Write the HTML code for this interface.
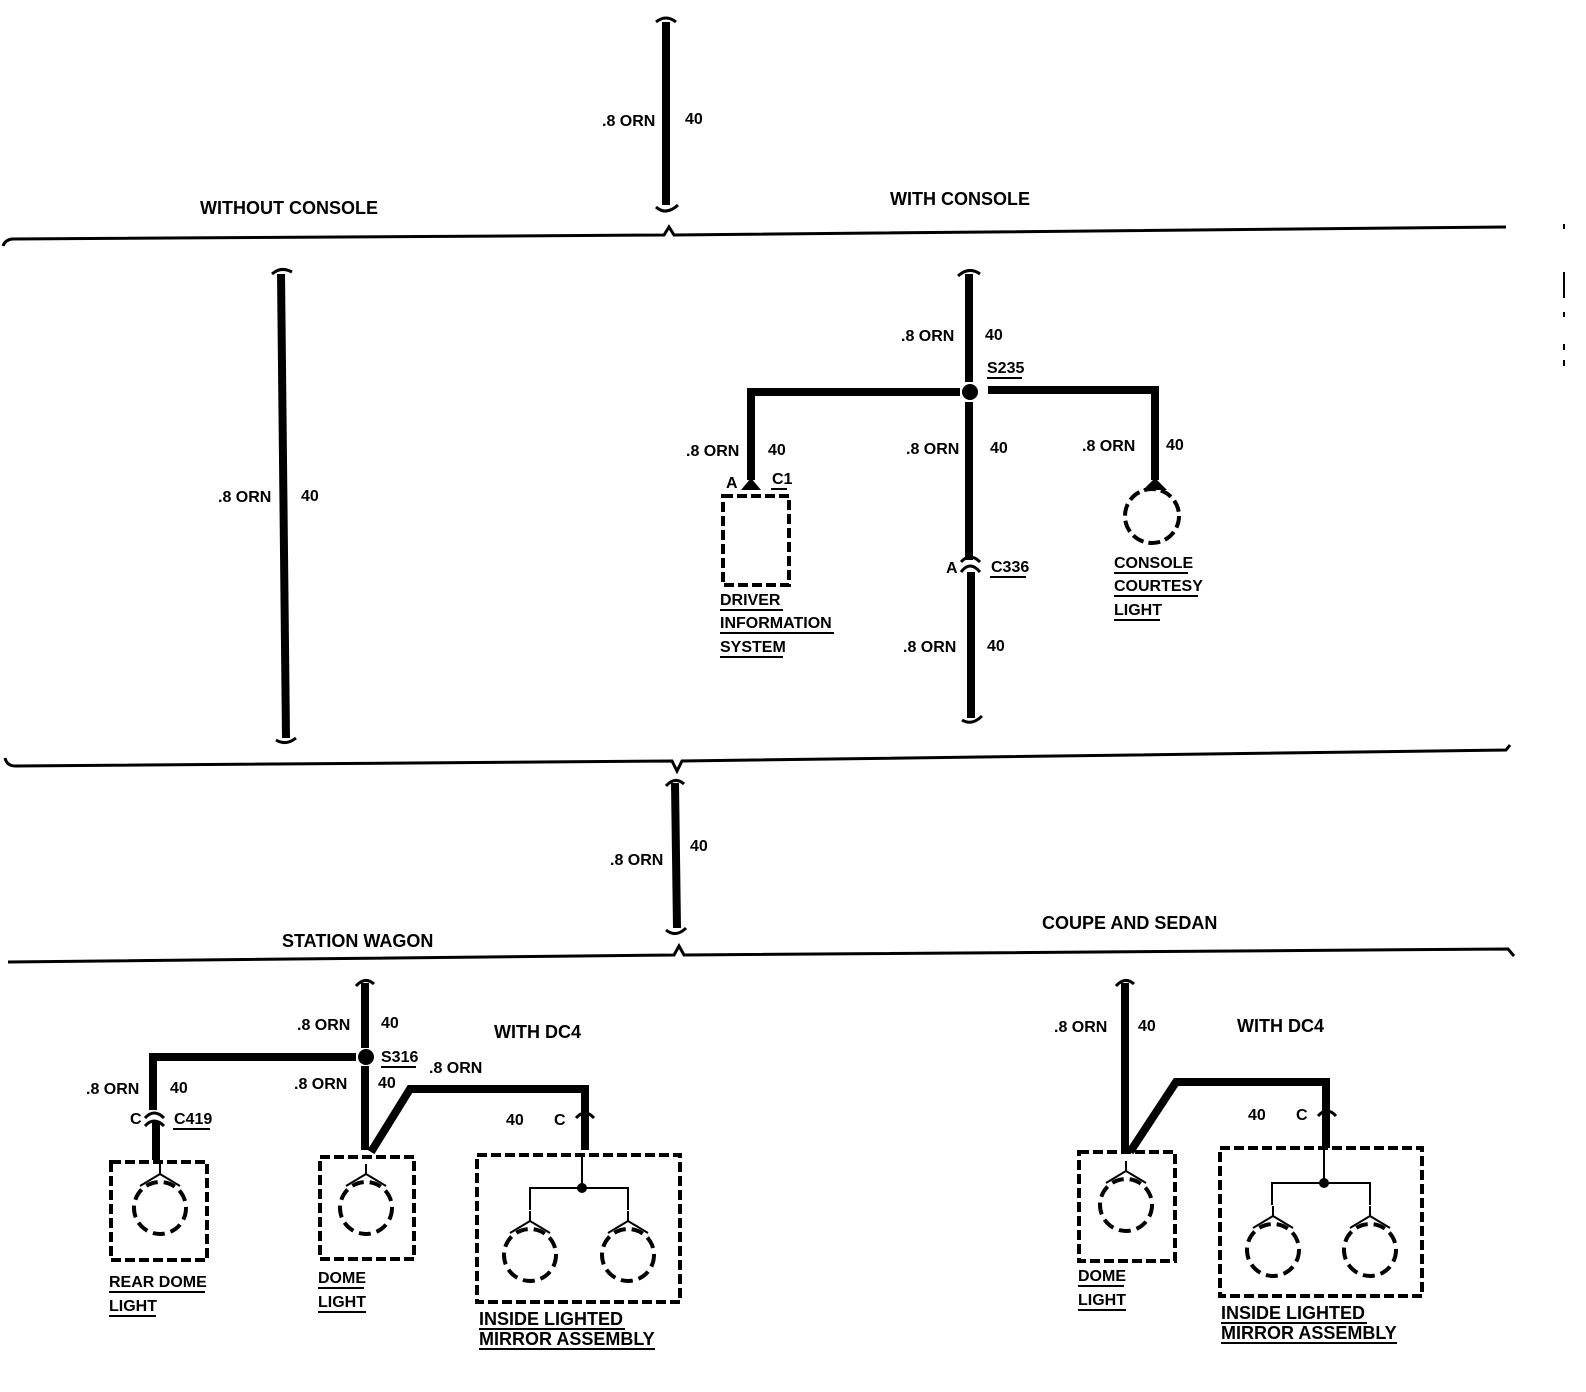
<!DOCTYPE html>
<html><head><meta charset="utf-8"><style>
html,body{margin:0;padding:0;background:#fff;}
svg{display:block;}
text{font-family:"Liberation Sans",sans-serif;font-weight:bold;font-size:16px;fill:#000;}
text.h{font-size:18px;}
.w{stroke:#000;stroke-width:8;fill:none;stroke-linejoin:miter;}
.d{stroke:#000;stroke-width:3;fill:none;}
.box{stroke:#000;stroke-width:4;fill:none;stroke-dasharray:10 4;}
.thin{stroke:#000;stroke-width:2;fill:none;}
.u{stroke:#000;stroke-width:2;}
</style></head><body>
<svg width="1586" height="1392" viewBox="0 0 1586 1392" xmlns="http://www.w3.org/2000/svg">
<defs>
<g id="bulb">
<circle cx="0" cy="0" r="26" stroke="#000" stroke-width="4" fill="none" stroke-dasharray="12 6"/>
<path d="M0,-44 V-34 M0,-34 L-20,-22 M0,-34 L20,-22" class="thin" stroke-width="3"/>
</g>
</defs>

<path class="w" d="M666,22 V205"/>
<path class="d" d="M656,22 Q666,14 676,22 M656,207 Q666,216 678,205"/>
<text x="602" y="126">.8 ORN</text>
<text x="685" y="124">40</text>
<text class="h" x="200" y="214">WITHOUT CONSOLE</text>
<text class="h" x="890" y="205">WITH CONSOLE</text>
<path class="d" d="M3,246 Q5,240 12,239 L664,235 L669,227 L674,235 L1506,227"/>

<path class="w" d="M281,274 L286,738"/>
<path class="d" d="M272,274 Q281,266 292,272 M276,740 Q286,746 296,738"/>
<text x="218" y="502">.8 ORN</text>
<text x="301" y="501">40</text>

<path class="w" d="M969,274 V382 M969,402 V560 M971,572 V718"/>
<path class="d" d="M958,276 Q969,266 980,274 M962,720 Q972,726 982,716"/>
<circle cx="970" cy="392" r="8"/>
<path class="w" d="M960,392 H751 V480"/>
<path class="w" d="M988,390 H1155 V480"/>
<text x="901" y="341">.8 ORN</text>
<text x="985" y="340">40</text>
<text x="987" y="373">S235</text><line class="u" x1="987" y1="378" x2="1022" y2="378"/>
<text x="686" y="456">.8 ORN</text>
<text x="768" y="455">40</text>
<text x="906" y="454">.8 ORN</text>
<text x="990" y="453">40</text>
<text x="1082" y="451">.8 ORN</text>
<text x="1166" y="450">40</text>
<path d="M741,490 L751,478 L761,490 Z"/>
<text x="726" y="488">A</text>
<text x="772" y="484">C1</text><line class="u" x1="771" y1="489" x2="787" y2="489"/>
<rect class="box" x="723" y="496" width="66" height="89"/>
<text x="720" y="605">DRIVER</text><line class="u" x1="720" y1="610" x2="783" y2="610"/>
<text x="720" y="628">INFORMATION</text><line class="u" x1="720" y1="633" x2="834" y2="633"/>
<text x="720" y="652">SYSTEM</text><line class="u" x1="720" y1="657" x2="783" y2="657"/>
<path d="M961,572 Q970,560 980,572 M961,562 Q970,552 980,562" class="d" stroke-width="4"/>
<text x="946" y="573">A</text>
<text x="991" y="572">C336</text><line class="u" x1="990" y1="577" x2="1026" y2="577"/>
<text x="903" y="652">.8 ORN</text>
<text x="987" y="651">40</text>
<path d="M1143,490 L1155,478 L1167,490 Z"/>
<circle cx="1152" cy="516" r="27" stroke="#000" stroke-width="4" fill="none" stroke-dasharray="12 5"/>
<text x="1114" y="568">CONSOLE</text><line class="u" x1="1114" y1="573" x2="1188" y2="573"/>
<text x="1114" y="591">COURTESY</text><line class="u" x1="1114" y1="596" x2="1198" y2="596"/>
<text x="1114" y="615">LIGHT</text><line class="u" x1="1114" y1="620" x2="1160" y2="620"/>

<path class="d" d="M5,758 Q7,766 15,766 L672,761 L677,771 L682,761 L1506,750 L1510,745"/>

<path class="w" d="M675,783 L677,928"/>
<path class="d" d="M666,786 Q675,776 684,784 M666,930 Q676,938 686,928"/>
<text x="610" y="865">.8 ORN</text>
<text x="690" y="851">40</text>
<text class="h" x="282" y="947">STATION WAGON</text>
<text class="h" x="1042" y="929">COUPE AND SEDAN</text>
<path class="d" d="M8,962 L674,955 L679,946 L684,955 L1508,949 L1514,956"/>

<path class="w" d="M365,983 V1048 M365,1066 V1150"/>
<path class="d" d="M356,986 Q365,976 374,984"/>
<circle cx="366" cy="1057" r="8"/>
<path class="w" d="M356,1057 H153 V1110 M156,1122 V1160"/>
<path d="M145,1118 Q154,1108 164,1118 M145,1126 Q154,1116 164,1126" class="d" stroke-width="4"/>
<text x="297" y="1030">.8 ORN</text><text x="381" y="1028">40</text>
<text x="381" y="1062">S316</text><line class="u" x1="381" y1="1067" x2="416" y2="1067"/>
<text x="86" y="1094">.8 ORN</text><text x="170" y="1093">40</text>
<text x="130" y="1124">C</text>
<text x="174" y="1124">C419</text><line class="u" x1="173" y1="1129" x2="210" y2="1129"/>
<text x="294" y="1089">.8 ORN</text><text x="378" y="1088">40</text>
<text x="429" y="1073">.8 ORN</text>
<text class="h" x="494" y="1038">WITH DC4</text>
<path class="w" d="M371,1152 L410,1089 H585 V1150"/>
<path d="M576,1118 Q585,1108 594,1118" class="d" stroke-width="4"/>
<text x="506" y="1125">40</text><text x="554" y="1125">C</text>
<rect class="box" x="111" y="1162" width="96" height="98"/>
<use href="#bulb" x="160" y="1208"/>
<rect class="box" x="320" y="1157" width="94" height="102"/>
<use href="#bulb" x="366" y="1208"/>
<rect class="box" x="477" y="1155" width="203" height="147"/>
<path class="thin" d="M582,1155 V1188 M530,1210 V1188 H628 V1210"/>
<circle cx="582" cy="1188" r="5"/>
<use href="#bulb" x="530" y="1255"/>
<use href="#bulb" x="628" y="1255"/>
<text x="109" y="1287">REAR DOME</text><line class="u" x1="109" y1="1292" x2="205" y2="1292"/>
<text x="109" y="1311">LIGHT</text><line class="u" x1="109" y1="1316" x2="156" y2="1316"/>
<text x="318" y="1283">DOME</text><line class="u" x1="318" y1="1288" x2="364" y2="1288"/>
<text x="318" y="1307">LIGHT</text><line class="u" x1="318" y1="1312" x2="366" y2="1312"/>
<text class="h" x="479" y="1325">INSIDE LIGHTED</text><line class="u" x1="479" y1="1329" x2="625" y2="1329"/>
<text class="h" x="479" y="1345">MIRROR ASSEMBLY</text><line class="u" x1="479" y1="1349" x2="655" y2="1349"/>

<path class="w" d="M1125,983 V1150"/>
<path class="d" d="M1116,986 Q1125,976 1134,984"/>
<text x="1054" y="1032">.8 ORN</text><text x="1138" y="1031">40</text>
<text class="h" x="1237" y="1032">WITH DC4</text>
<path class="w" d="M1130,1152 L1176,1082 H1326 V1148"/>
<path d="M1318,1116 Q1327,1106 1336,1116" class="d" stroke-width="4"/>
<text x="1248" y="1120">40</text><text x="1296" y="1120">C</text>
<rect class="box" x="1079" y="1152" width="96" height="109"/>
<use href="#bulb" x="1126" y="1205"/>
<rect class="box" x="1220" y="1148" width="202" height="148"/>
<path class="thin" d="M1324,1148 V1183 M1272,1205 V1183 H1370 V1205"/>
<circle cx="1324" cy="1183" r="5"/>
<use href="#bulb" x="1273" y="1250"/>
<use href="#bulb" x="1370" y="1250"/>
<text x="1078" y="1281">DOME</text><line class="u" x1="1078" y1="1286" x2="1124" y2="1286"/>
<text x="1078" y="1305">LIGHT</text><line class="u" x1="1078" y1="1310" x2="1126" y2="1310"/>
<text class="h" x="1221" y="1319">INSIDE LIGHTED</text><line class="u" x1="1221" y1="1323" x2="1367" y2="1323"/>
<text class="h" x="1221" y="1339">MIRROR ASSEMBLY</text><line class="u" x1="1221" y1="1343" x2="1397" y2="1343"/>

<rect x="1563" y="224" width="2" height="5"/>
<rect x="1563" y="272" width="2" height="26"/>
<rect x="1563" y="312" width="2" height="5"/>
<rect x="1563" y="344" width="2" height="6"/>
<rect x="1563" y="360" width="2" height="6"/>
</svg>
</body></html>
